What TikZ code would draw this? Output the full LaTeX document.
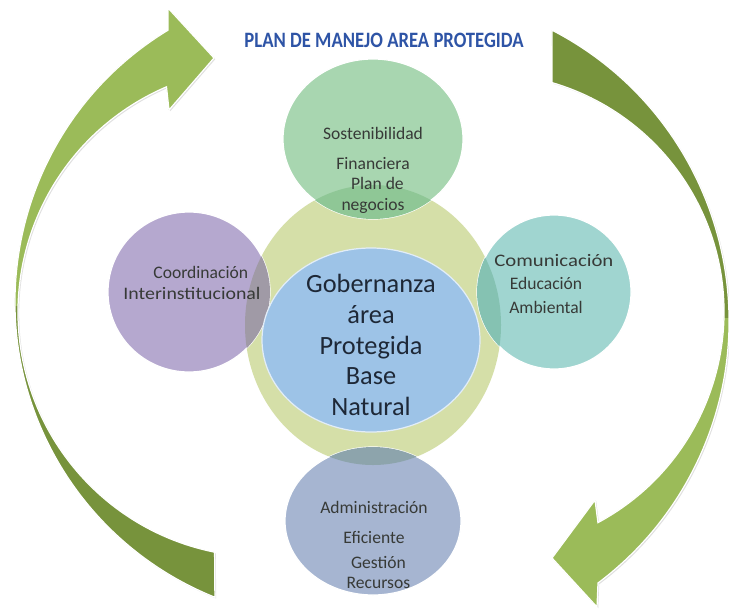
\documentclass[tikz,border=0pt]{standalone}
\usepackage{fontspec}
\setmainfont{Carlito}
\usepackage{graphicx}
\usepackage{tikz}
\usetikzlibrary{positioning,shapes,shadows}
\definecolor{arrowlight}{RGB}{155,187,89}
\definecolor{arrowdark}{RGB}{119,147,60}
\definecolor{ringgreen}{RGB}{213,223,168}
\definecolor{topfill}{RGB}{168,214,176}
\definecolor{topover}{RGB}{143,199,150}
\definecolor{leftfill}{RGB}{181,168,207}
\definecolor{leftover}{RGB}{160,154,166}
\definecolor{rightfill}{RGB}{160,213,208}
\definecolor{rightover}{RGB}{133,194,178}
\definecolor{bottomfill}{RGB}{166,181,209}
\definecolor{bottomover}{RGB}{141,164,172}
\definecolor{corefill}{RGB}{157,195,231}
\definecolor{titleblue}{RGB}{46,84,166}
\definecolor{textgrey}{RGB}{55,58,55}
\definecolor{coretext}{RGB}{30,40,55}
\tikzset{
  arrowbody/.style={fill=arrowdark, drop shadow={opacity=0.25, shadow xshift=0.7pt, shadow yshift=-0.7pt}},
  arrowedge/.style={draw=white, line width=0.7pt},
  satellite/.style={draw=white, line width=0.7pt},
  satlabel/.style={align=center, text=textgrey, font=\fontsize{10}{11.5}\selectfont},
  corelabel/.style={align=center, text=coretext, font=\fontsize{15}{17.6}\selectfont},
  titlelabel/.style={text=titleblue, font=\bfseries\fontsize{12.5}{14}\selectfont}
}
% curved arrows (image coordinates, y pointing down)
\newcommand{\leftArrow}{([shift={(lo)}]111.8:318) -- ([shift={(li)}]101.4:245)
  arc[start angle=101.4, end angle=246.8, radius=245] -- (169,110) -- (214,58) -- (168,8)
  -- ([shift={(lo)}]238.75:318) arc[start angle=238.75, end angle=111.8, radius=318] -- cycle}
\newcommand{\rightArrow}{([shift={(ro)}]-62.65:327.5)
  arc[start angle=-62.65, end angle=53.13, radius=327.5] -- (597,607) -- (552,558) -- (595,500)
  -- ([shift={(ri)}]61.8:239) arc[start angle=61.8, end angle=-73.7, radius=239] -- cycle}
\begin{document}
\begin{tikzpicture}[x=0.02cm, y=-0.02cm]
    \useasboundingbox[fill=white] (0,0) rectangle (729,612);
    \coordinate (lo) at (333,302);
    \coordinate (li) at (263,312);
    \coordinate (ro) at (401.5,321);
    \coordinate (ri) at (485,312);

    \coordinate (ringc) at (373,325);
    \coordinate (topc) at (373,139);
    \coordinate (leftc) at (189,292);
    \coordinate (rightc) at (554,292);
    \coordinate (bottomc) at (373,521);
    \coordinate (corec) at (371,340);

    % arrows
    \fill[arrowbody] \leftArrow;
    \begin{scope}
      \clip (0,0) rectangle (729,305);
      \fill[arrowlight] \leftArrow;
    \end{scope}
    \draw[arrowedge] \leftArrow;

    \fill[arrowbody] \rightArrow;
    \begin{scope}
      \clip (0,318) rectangle (729,612);
      \fill[arrowlight] \rightArrow;
    \end{scope}
    \draw[arrowedge] \rightArrow;

    \node[titlelabel] (title) at (384,40) {\scalebox{0.85}[1]{PLAN DE MANEJO AREA PROTEGIDA}};

    % ring and the four circles
    \fill[ringgreen] (ringc) ellipse [x radius=128, y radius=140];
    \fill[topfill, satellite] (topc) ellipse [x radius=90, y radius=80];
    \fill[leftfill, satellite] (leftc) ellipse [x radius=81, y radius=80];
    \fill[rightfill, satellite] (rightc) ellipse [x radius=77, y radius=77];
    \fill[bottomfill, satellite] (bottomc) ellipse [x radius=88, y radius=74];
    \begin{scope}
      \clip (ringc) ellipse [x radius=128, y radius=140];
      \fill[topover] (topc) ellipse [x radius=90, y radius=80];
      \fill[leftover] (leftc) ellipse [x radius=81, y radius=80];
      \fill[rightover] (rightc) ellipse [x radius=77, y radius=77];
      \fill[bottomover] (bottomc) ellipse [x radius=88, y radius=74];
    \end{scope}
    \fill[corefill, draw=white!70!corefill, line width=0.7pt] (corec) ellipse [x radius=109, y radius=92];

    % labels
    \node[satlabel] (toplabel) at (373,170) {Sostenibilidad\\[6pt]Financiera\\\hspace*{5pt}Plan de\\negocios};
    \node[satlabel] (leftlabel) at (192,283) {\hspace*{10pt}Coordinación\\\scalebox{1.13}[1]{Interinstitucional}};
    \node[satlabel] (rightlabel) at (546,284) {\hspace*{9pt}\scalebox{1.18}[1]{Comunicación}\\[2pt]Educación\\[2pt]Ambiental};
    \node[satlabel] (bottomlabel) at (374,545) {Administración\\[5.5pt]Eficiente\\[2.7pt]\hspace*{5pt}Gestión\\\hspace*{5pt}Recursos};
    \node[corelabel] (corelabel) at (371,345) {Gobernanza\\área\\Protegida\\Base\\Natural};
\end{tikzpicture}
\end{document}
